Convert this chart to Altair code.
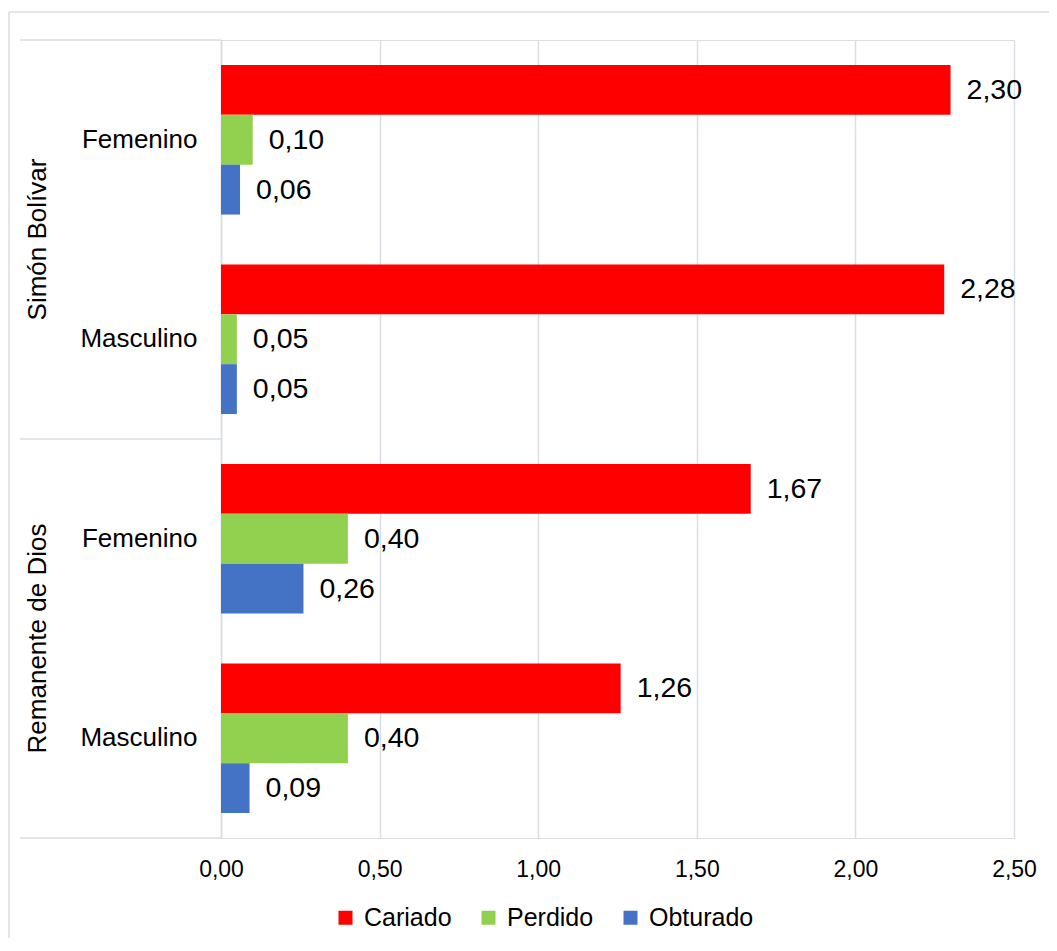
import altair as alt
import pandas as pd

groups = ["Simón Bolívar", "Simón Bolívar", "Remanente de Dios", "Remanente de Dios"]
sexes = ["Femenino", "Masculino", "Femenino", "Masculino"]
series = ["Cariado", "Perdido", "Obturado"]
cariado = [2.30, 2.28, 1.67, 1.26]
perdido = [0.10, 0.05, 0.40, 0.40]
obturado = [0.06, 0.05, 0.26, 0.09]
colors = ["#FF0000", "#92D050", "#4472C4"]
ticks = [0, 0.5, 1.0, 1.5, 2.0, 2.5]

rows = []
for i in range(len(groups)):
    key = groups[i] + "|" + sexes[i]
    for s, vals in zip(series, [cariado, perdido, obturado]):
        rows.append({"key": key, "grupo": groups[i], "sexo": sexes[i], "serie": s, "valor": vals[i]})
df = pd.DataFrame(rows)
key_order = [g + "|" + s for g, s in zip(groups, sexes)]
group_order = list(dict.fromkeys(groups))

FONT = "Liberation Sans"
LINE = "#d9dde4"
W, H = 793, 798

y_enc = alt.Y("key:N", sort=key_order, title=None,
              scale=alt.Scale(paddingInner=0.25, paddingOuter=0.125),
              axis=alt.Axis(labelExpr="split(datum.label, '|')[1]", labelFontSize=26,
                            labelFont=FONT, labelColor="#000000", labelPadding=24,
                            ticks=False, domainColor=LINE, domainWidth=1.5))
x_enc = alt.X("valor:Q", title=None,
              scale=alt.Scale(domain=[0, 2.5], nice=False),
              axis=alt.Axis(values=ticks, labelExpr="replace(format(datum.value, '.2f'), '.', ',')",
                            labelFontSize=23, labelFont=FONT, labelColor="#000000",
                            labelPadding=20, labelFlush=False, ticks=False, domain=False,
                            gridColor=LINE, gridWidth=1.5))
yoff = alt.YOffset("serie:N", sort=series, scale=alt.Scale(paddingInner=0, paddingOuter=0))

base = alt.Chart(df)
bars = base.mark_bar().encode(
    x=x_enc, y=y_enc, yOffset=yoff,
    color=alt.Color("serie:N", sort=series, scale=alt.Scale(domain=series, range=colors),
                    legend=alt.Legend(title=None, orient="none", direction="horizontal",
                                      legendX=112, legendY=865, symbolType="square",
                                      symbolSize=196, symbolStrokeWidth=0,
                                      labelFontSize=25, labelFont=FONT, labelColor="#000000",
                                      labelOffset=6, columnPadding=24)),
)
labels = base.mark_text(align="left", baseline="middle", dx=16, fontSize=28.5, font=FONT,
                        color="#000000").transform_calculate(
    etiqueta="replace(format(datum.valor, '.2f'), '.', ',')"
).encode(x="valor:Q", y=alt.Y("key:N", sort=key_order), yOffset=yoff, text="etiqueta:N")

main = alt.layer(bars, labels)

gdf = pd.DataFrame({"grupo": group_order})
glabels = alt.Chart(gdf).mark_text(angle=270, align="center", baseline="middle",
                                   fontSize=26, font=FONT, color="#000000").encode(
    y=alt.Y("grupo:N", sort=group_order, axis=None, title=None,
            scale=alt.Scale(paddingInner=0, paddingOuter=0)),
    x=alt.value(-183), text="grupo:N")

one = alt.Data(values=[{"a": 1}])
def hrule(yv, x1, x2):
    return alt.Chart(one).mark_rule(color=LINE, strokeWidth=1.5).encode(
        y=alt.value(yv), x=alt.value(x1), x2=alt.value(x2))
def vrule(xv, y1, y2):
    return alt.Chart(one).mark_rule(color=LINE, strokeWidth=1.5).encode(
        x=alt.value(xv), y=alt.value(y1), y2=alt.value(y2))

decor = [hrule(0, -201, 0), hrule(H / 2, -201, 0), hrule(H, -201, 0),
         hrule(-28, -212, 835), vrule(-212, -28, 920)]

chart = alt.layer(main, glabels, *decor).resolve_scale(y="independent").properties(
    width=W, height=H,
    autosize=alt.AutoSizeParams(type="none"),
    padding={"left": 213, "top": 32, "right": 35, "bottom": 100},
).configure_view(stroke=None).configure(background="#ffffff")

chart.save("out.html", embed_options={"renderer": "svg", "actions": False})
